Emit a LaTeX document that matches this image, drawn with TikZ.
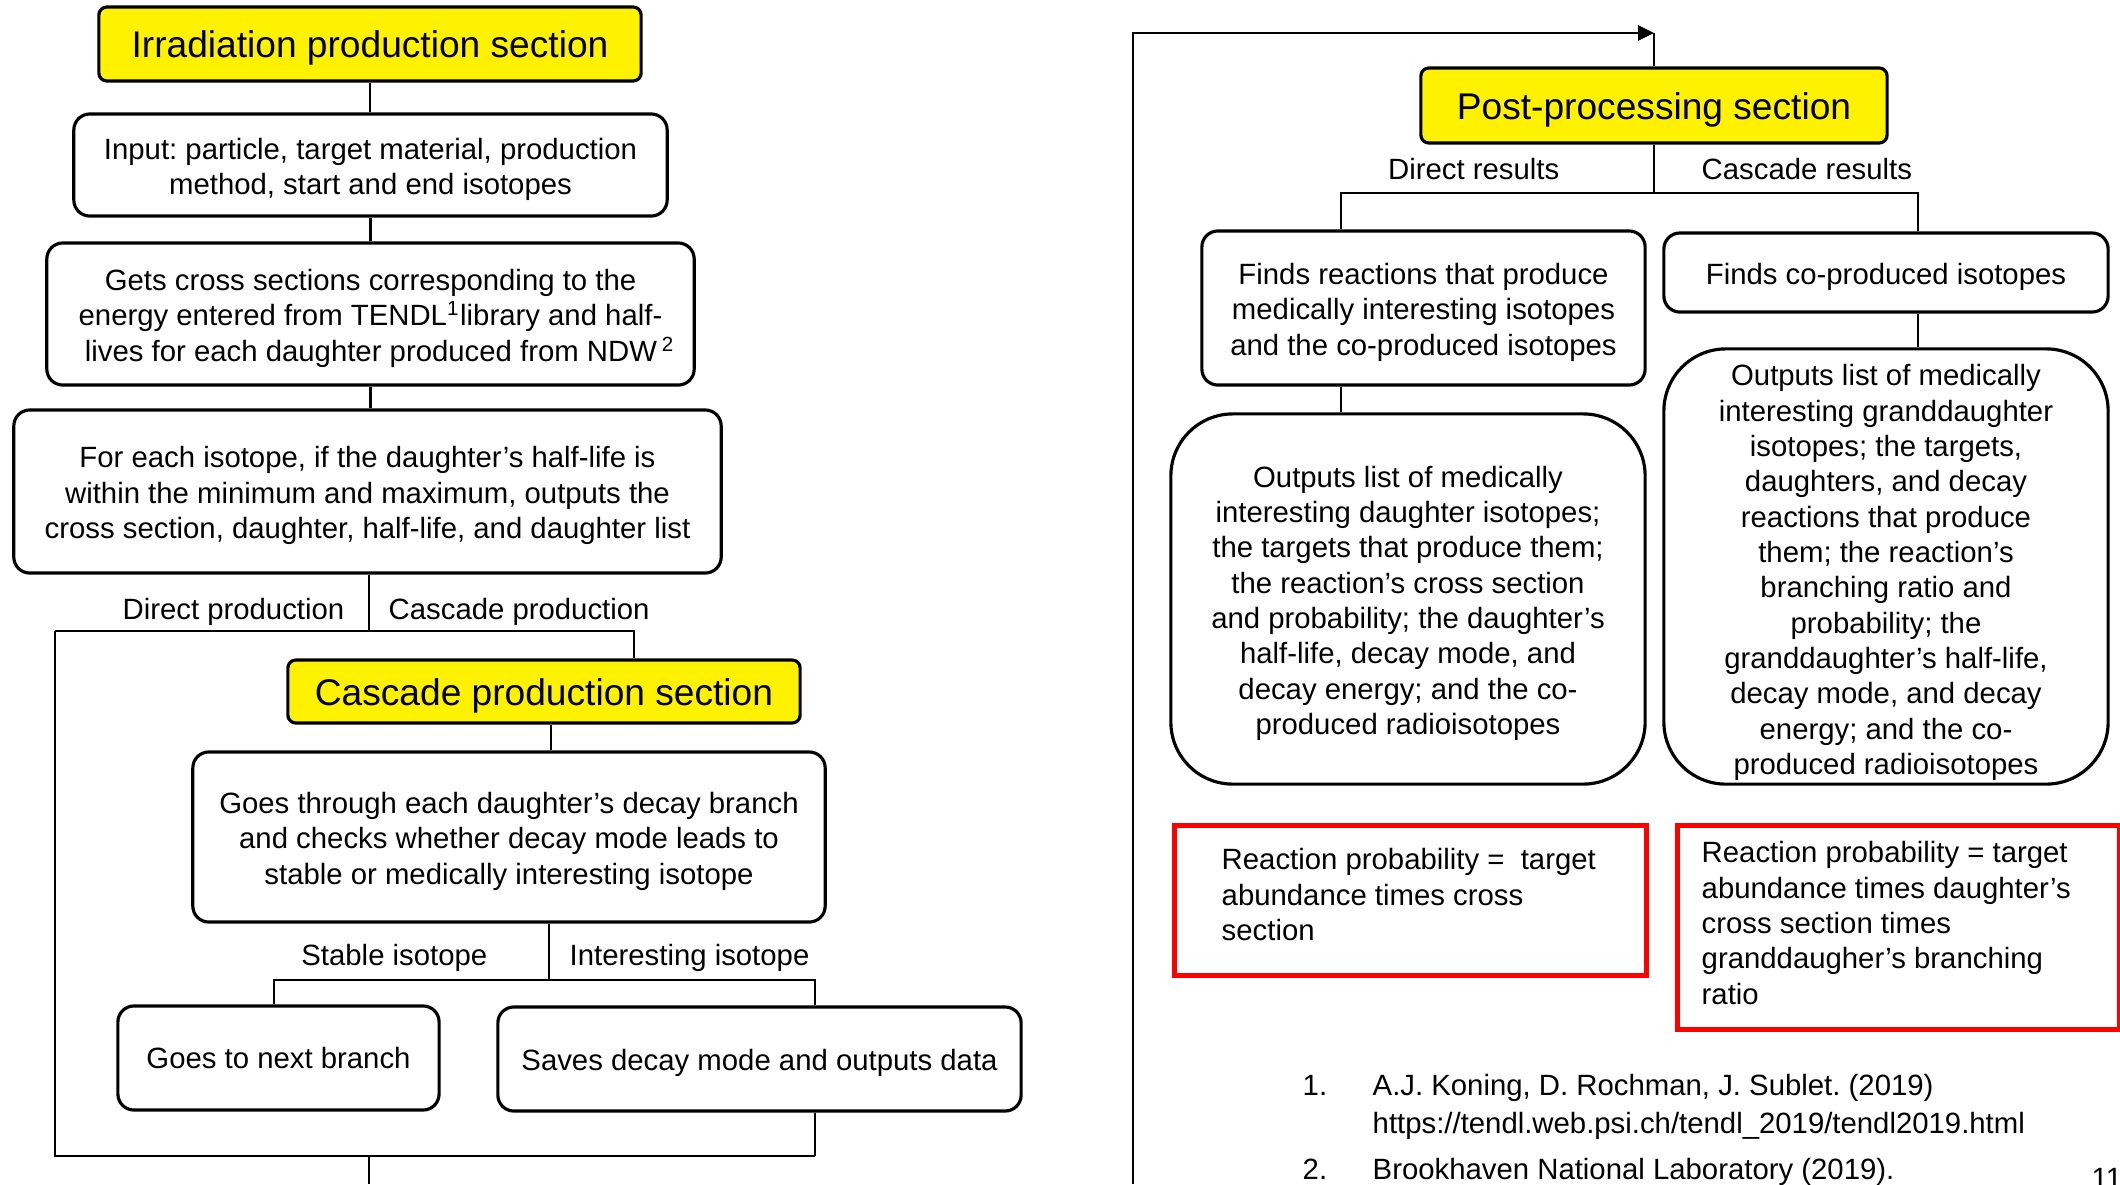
\documentclass[tikz,border=0pt]{standalone}
\usepackage{fontspec}
\setmainfont{Liberation Sans}
\frenchspacing
\usetikzlibrary{arrows.meta}
\newcommand\bodyf{\fontsize{8.34pt}{10.05pt}\selectfont}
\newcommand\titlef{\fontsize{10.56pt}{12.7pt}\selectfont}
\newcommand\tp{\rule{0pt}{8.4pt}}
\newcommand\ttp{\rule{0pt}{10pt}}
\begin{document}
\begin{tikzpicture}[x=0.01cm,y=-0.01cm,
 conn/.style={line width=0.75pt},
 box/.style={draw, line width=0.9pt, rounded corners=0.16cm, align=center, inner sep=0pt, font=\bodyf},
 bigbox/.style={box, rounded corners=0.62cm},
 titlebox/.style={draw, fill=yellow, line width=0.9pt, rounded corners=0.08cm, inner sep=0pt, font=\titlef},
 redbox/.style={draw=red, line width=1.3pt, inner sep=0pt},
 lbl/.style={inner sep=0pt, font=\bodyf},
]
\clip (0,0) rectangle (2120,1184);
\fill[white] (0,0) rectangle (2120,1184);

% ---------- left column ----------
\node[titlebox, minimum width=5.42cm, minimum height=0.74cm] (t1) at (370,44) {\ttp Irradiation production section};
\node[box, minimum width=5.93cm, minimum height=1.02cm] (in) at (370.5,165) {\tp Input: particle, target material, production\\method, start and end isotopes};
\node[box, minimum width=6.47cm, minimum height=1.42cm] (gets) at (370.5,314) {\tp Gets cross sections corresponding to the\\energy entered from TENDL\textsuperscript{1}library and half-\\\hspace*{0.19cm}lives for each daughter produced from NDW\,\textsuperscript{2}};
\node[box, minimum width=7.07cm, minimum height=1.63cm] (for) at (367.5,491.5) {\tp For each isotope, if the daughter’s half-life is\\within the minimum and maximum, outputs the\\cross section, daughter, half-life, and daughter list};
\node[titlebox, minimum width=5.12cm, minimum height=0.63cm] (casc) at (544,691.5) {\ttp Cascade production section};
\node[box, minimum width=6.32cm, minimum height=1.70cm] (goes) at (509,837) {\tp Goes through each daughter’s decay branch\\and checks whether decay mode leads to\\stable or medically interesting isotope};
\node[box, minimum width=3.21cm, minimum height=1.04cm] (next) at (278.5,1058) {Goes to next branch};
\node[box, minimum width=5.23cm, minimum height=1.04cm] (saves) at (759.5,1059) {\tp Saves decay mode and outputs data};

\node[lbl, anchor=east] at (345,612) {Direct production};
\node[lbl, anchor=west] at (388,612) {Cascade production};
\node[lbl, anchor=east] at (488,958) {Stable isotope};
\node[lbl, anchor=west] at (569,958) {Interesting isotope};

\draw[conn] (t1.south) -- (t1.south |- in.north);
\draw[conn] (in.south) -- (in.south |- gets.north);
\draw[conn] (gets.south) -- (gets.south |- for.north);
\coordinate (j1) at (369,631);
\coordinate (jl) at (55,631);
\coordinate (jr) at (634,631);
\draw[conn] (j1 |- for.south) -- (j1);
\draw[conn] (jl) -- (jr) -- (jr |- casc.north);
\coordinate (b1) at (55,1156);
\coordinate (b2) at (815,1156);
\coordinate (bout) at (369,1184);
\draw[conn] (jl) -- (b1) -- (b2);
\draw[conn] (b1 -| bout) -- (bout);
\coordinate (c1) at (551,0);
\draw[conn] (c1 |- casc.south) -- (c1 |- goes.north);
\coordinate (j2) at (549,980);
\coordinate (j2l) at (274,980);
\coordinate (j2r) at (815,980);
\draw[conn] (j2 |- goes.south) -- (j2);
\draw[conn] (j2l |- next.north) -- (j2l) -- (j2r) -- (j2r |- saves.north);
\draw[conn] (j2r |- saves.south) -- (b2);

% ---------- right column ----------
\node[titlebox, minimum width=4.66cm, minimum height=0.75cm] (post) at (1654,105.5) {\ttp Post-processing section};
\node[box, minimum width=4.43cm, minimum height=1.54cm] (fr) at (1423.5,308) {\tp Finds reactions that produce\\medically interesting isotopes\\and the co-produced isotopes};
\node[box, minimum width=4.44cm, minimum height=0.79cm] (fc) at (1886,272.5) {\tp Finds co-produced isotopes};
\node[bigbox, minimum width=4.74cm, minimum height=3.70cm] (outl) at (1408,599) {\tp Outputs list of medically\\interesting daughter isotopes;\\the targets that produce them;\\the reaction’s cross section\\and probability; the daughter’s\\half-life, decay mode, and\\decay energy; and the co-\\produced radioisotopes};
\node[bigbox, minimum width=4.44cm, minimum height=4.35cm] (outr) at (1886,566.5) {\rule{0pt}{9.5pt}Outputs list of medically\\interesting granddaughter\\isotopes; the targets,\\daughters, and decay\\reactions that produce\\them; the reaction’s\\branching ratio and\\probability; the\\granddaughter’s half-life,\\decay mode, and decay\\energy; and the co-\\produced radioisotopes};

\node[lbl, anchor=east] at (1560,169) {Direct results};
\node[lbl, anchor=west] at (1701,169) {Cascade results};

\coordinate (rb) at (1133,1184);
\coordinate (rt) at (1133,33);
\coordinate (ra) at (1654,33);
\draw[conn, -{Triangle[length=0.16cm, width=0.15cm]}] (rb) -- (rt) -- (ra);
\draw[conn] (ra) -- (ra |- post.north);
\coordinate (j3) at (1654,193);
\coordinate (j3l) at (1341,193);
\coordinate (j3r) at (1918,193);
\draw[conn] (j3 |- post.south) -- (j3);
\draw[conn] (j3l |- fr.north) -- (j3l) -- (j3r) -- (j3r |- fc.north);
\draw[conn] (j3l |- fr.south) -- (j3l |- outl.north);
\draw[conn] (j3r |- fc.south) -- (j3r |- outr.north);

\node[redbox, minimum width=4.72cm, minimum height=1.50cm, anchor=north west] (rl) at (1172,823) {};
\node[lbl, align=left, anchor=north west] at ([shift={(49,25)}]rl.north west) {Reaction probability =\ \ target\\abundance times cross\\section};
\node[redbox, minimum width=4.42cm, minimum height=2.04cm, anchor=north west] (rr) at (1675,823) {};
\node[lbl, align=left, anchor=north west] at ([shift={(26,18)}]rr.north west) {Reaction probability = target\\abundance times daughter’s\\cross section times\\granddaugher’s branching\\ratio};

% ---------- footnotes ----------
\node[lbl, anchor=base west] (f1) at (1302,1095) {1.};
\node[lbl, anchor=base west] (f1a) at (1372,1095) {A.J. Koning, D. Rochman, J. Sublet. (2019)};
\node[lbl, anchor=base west] (f1b) at (1372,1133) {https://tendl.web.psi.ch/tendl\_2019/tendl2019.html};
\node[lbl, anchor=base west] (f2) at (1302,1179) {2.};
\node[lbl, anchor=base west] (f2a) at (1372,1179) {Brookhaven National Laboratory (2019).};
\node[lbl, anchor=base west] (pg) at (2091,1188) {11};
\end{tikzpicture}
\end{document}
